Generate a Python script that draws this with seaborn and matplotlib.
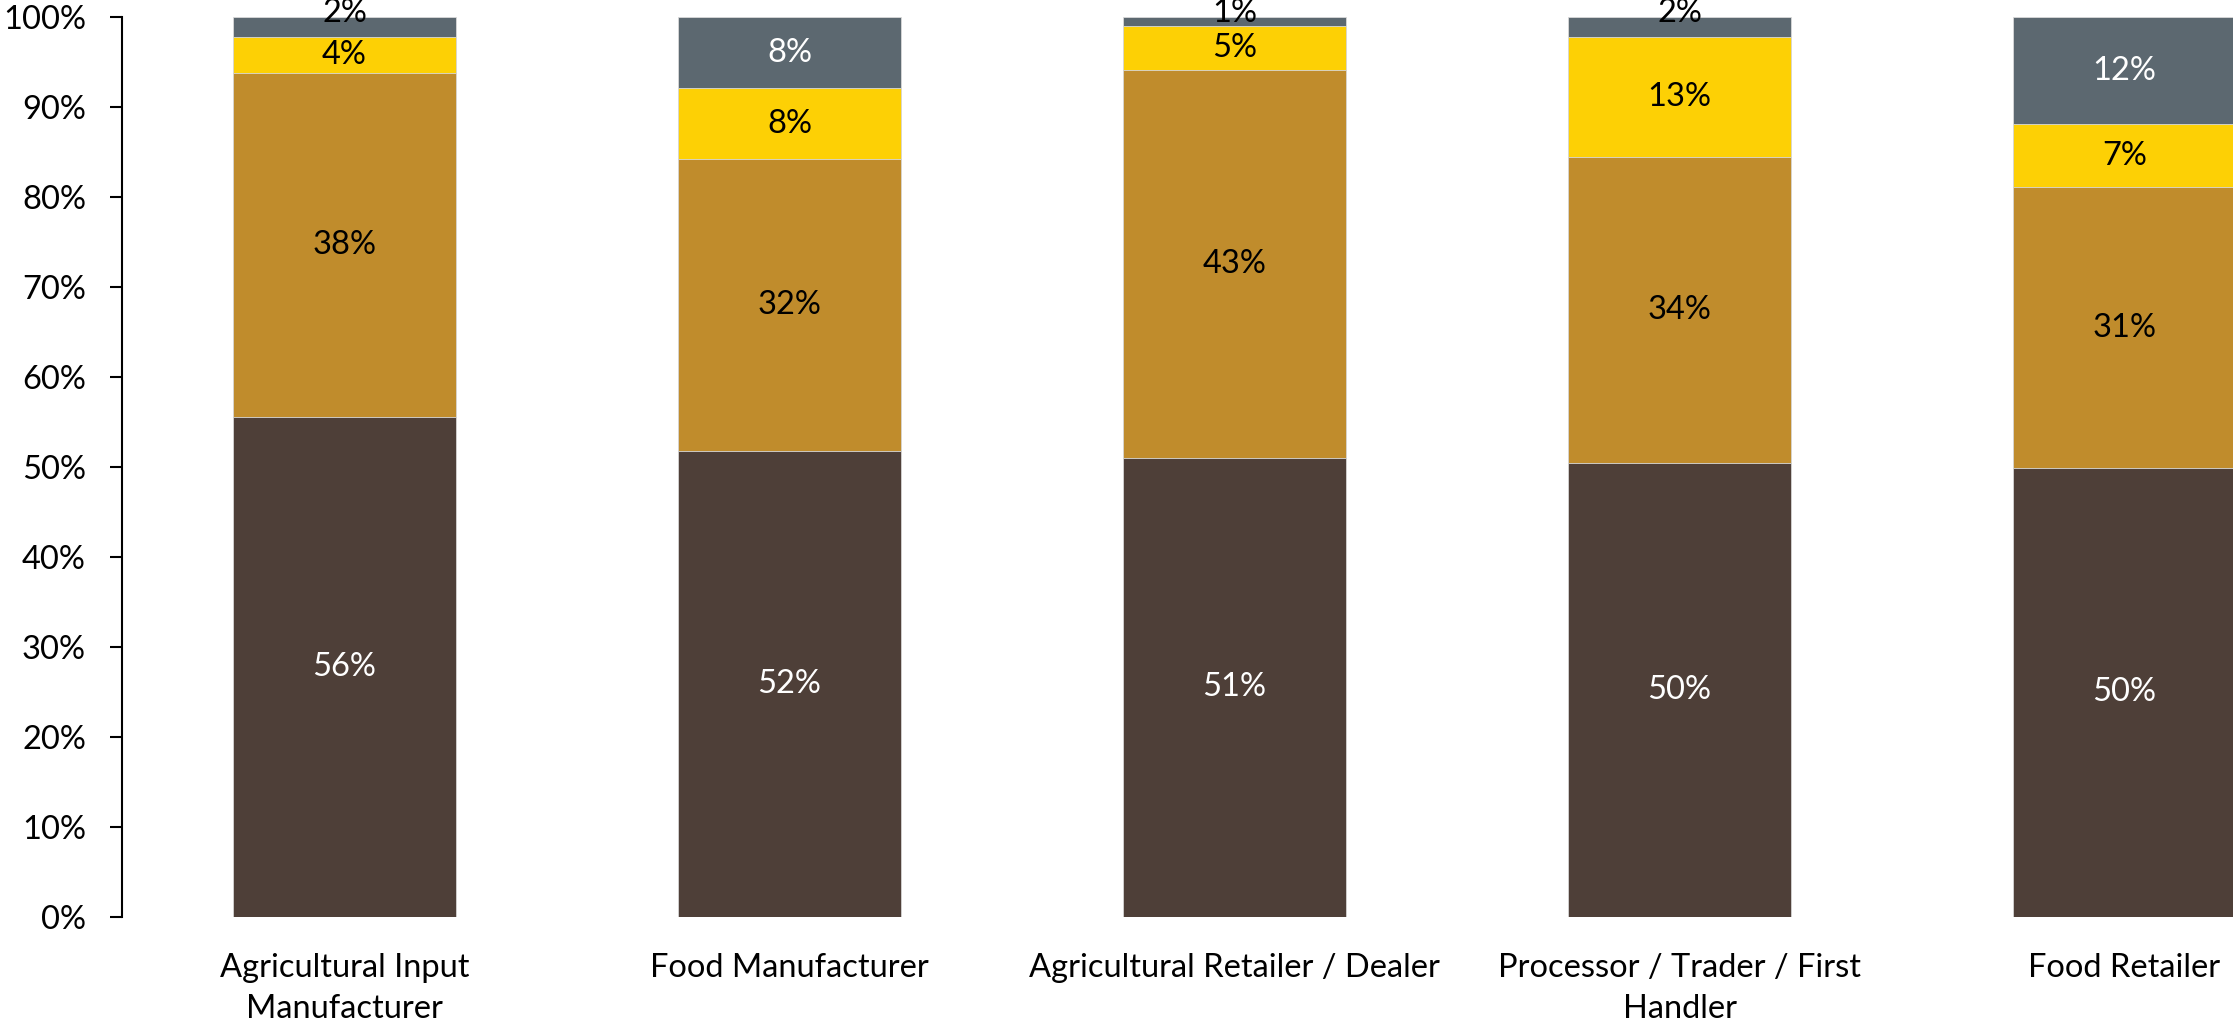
import matplotlib
matplotlib.use("Agg")
import matplotlib.pyplot as plt
import numpy as np
import pandas as pd
import seaborn as sns

# Survey segments by respondent type (shares in %)
categories = [
    "Agricultural Input\nManufacturer",
    "Food Manufacturer",
    "Agricultural Retailer / Dealer",
    "Processor / Trader / First\nHandler",
    "Food Retailer",
]
seg_dark = [55.6, 51.8, 51.0, 50.4, 49.9]
seg_tan = [38.2, 32.4, 43.1, 34.1, 31.2]
seg_yellow = [4.0, 7.9, 4.9, 13.3, 7.0]
seg_gray = [2.2, 7.9, 1.0, 2.2, 11.9]

series = [seg_dark, seg_tan, seg_yellow, seg_gray]
colors = ["#4E3F38", "#C08C2C", "#FDD005", "#5C6870"]
label_colors = ["white", "black", "black", "white"]
yticks = [0, 10, 20, 30, 40, 50, 60, 70, 80, 90, 100]

sns.set_theme(style="white")
plt.rcParams["font.family"] = ["Lato", "DejaVu Sans"]
FS = 23.5

fig = plt.figure(figsize=(22.33, 10.26), dpi=100)
ax = fig.add_axes([122 / 2233, 109 / 1026, 2225 / 2233, 900 / 1026])

cum = np.cumsum(np.array(series), axis=0)
# draw cumulative totals from the top layer down so each stack shows its segments
for i in range(len(series) - 1, -1, -1):
    df = pd.DataFrame({"cat": categories, "val": cum[i]})
    sns.barplot(data=df, x="cat", y="val", color=colors[i], width=0.5,
                saturation=1, edgecolor="#D9D9D9", linewidth=0.6, ax=ax,
                order=categories)

# segment value labels
for i, seg in enumerate(series):
    for j, v in enumerate(seg):
        bottom = cum[i][j] - v
        y = bottom + v / 2
        col = label_colors[i]
        if v < 3:
            y = 100.4
            col = "black"
        ax.text(j, y, f"{round(v):.0f}%", ha="center", va="center",
                fontsize=FS, color=col)

ax.set_xlim(-0.5, 4.5)
ax.set_ylim(0, 100)
ax.set_yticks(yticks)
ax.set_yticklabels([f"{t}%" for t in yticks])
ax.set_xlabel("")
ax.set_ylabel("")
ax.tick_params(axis="y", left=True, length=9, width=1.5, pad=17,
               labelsize=FS, color="black", labelcolor="black")
ax.tick_params(axis="x", bottom=False, pad=20, labelsize=FS, labelcolor="black")
for lbl in ax.get_xticklabels():
    lbl.set_linespacing(1.45)
    lbl.set_verticalalignment("top")

for side in ["top", "right", "bottom"]:
    ax.spines[side].set_visible(False)
ax.spines["left"].set_color("black")
ax.spines["left"].set_linewidth(1.5)
ax.grid(False)

fig.savefig("out.png", dpi=100)
